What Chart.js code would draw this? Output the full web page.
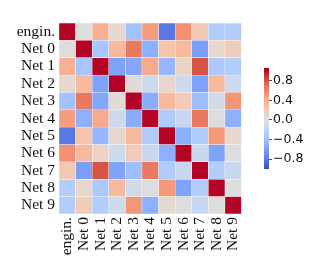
<!DOCTYPE html>
<html>
<head>
<meta charset="utf-8">
<script src="https://cdn.jsdelivr.net/npm/chart.js"></script>
<style>
  html, body { margin: 0; padding: 0; background: #fff; }
  #wrap { position: relative; width: 319px; height: 275px; overflow: hidden; }
  #heat { position: absolute; left: 0; top: 0; }
  #cbar { position: absolute; left: 255px; top: 0; }
</style>
</head>
<body>
<div id="wrap">
  <canvas id="heat" width="255" height="275"></canvas>
  <canvas id="cbar" width="64" height="275"></canvas>
</div>
<script>
// ---- data ----
const labels = ['engin.', 'Net 0', 'Net 1', 'Net 2', 'Net 3', 'Net 4', 'Net 5', 'Net 6', 'Net 7', 'Net 8', 'Net 9'];
const rowEngin = [1, 0.0, 0.38, 0.08, -0.38, 0.48, -0.8, 0.55, 0.22, -0.28, -0.28];
const rowNet0  = [0.0, 1, -0.35, 0.32, 0.65, -0.5, 0.25, 0.32, -0.6, 0.08, 0.18];
const rowNet1  = [0.38, -0.35, 1, -0.58, -0.55, 0.42, -0.45, 0.12, 0.8, -0.32, -0.28];
const rowNet2  = [0.08, 0.32, -0.58, 1, 0.03, -0.12, 0.08, -0.12, -0.58, 0.32, -0.12];
const rowNet3  = [-0.38, 0.65, -0.55, 0.03, 1, -0.52, 0.32, 0.2, -0.4, -0.08, 0.52];
const rowNet4  = [0.48, -0.5, 0.42, -0.12, -0.52, 1, -0.3, -0.15, 0.65, 0.0, -0.5];
const rowNet5  = [-0.8, 0.25, -0.45, 0.08, 0.32, -0.3, 1, -0.5, -0.3, 0.5, 0.06];
const rowNet6  = [0.55, 0.32, 0.12, -0.12, 0.2, -0.15, -0.5, 1, -0.14, -0.58, 0.0];
const rowNet7  = [0.22, -0.6, 0.8, -0.58, -0.4, 0.65, -0.3, -0.14, 1, -0.28, -0.15];
const rowNet8  = [-0.28, 0.08, -0.32, 0.32, -0.08, 0.0, 0.5, -0.58, -0.28, 1, 0.0];
const rowNet9  = [-0.28, 0.18, -0.28, -0.12, 0.52, -0.5, 0.06, 0.0, -0.15, 0.0, 1];
const corr = [rowEngin, rowNet0, rowNet1, rowNet2, rowNet3, rowNet4, rowNet5, rowNet6, rowNet7, rowNet8, rowNet9];
const cbTicks = [-0.8, -0.4, 0.0, 0.4, 0.8];
const vmin = -1, vmax = 1;

// ---- coolwarm colormap ----
const coolwarm = [
  [59,76,192],[68,90,204],[77,104,215],[87,117,225],[98,130,234],[108,142,241],[119,154,247],[130,165,251],
  [141,176,254],[152,185,255],[163,194,255],[174,201,253],[184,208,249],[194,213,244],[204,217,238],[213,219,230],
  [221,221,221],[229,216,209],[236,211,197],[241,204,185],[245,196,173],[247,187,160],[247,177,148],[247,166,135],
  [244,154,123],[241,141,111],[236,127,99],[229,112,88],[222,96,77],[213,80,66],[203,62,56],[192,40,47],[180,4,38]
];
function cmap(t) {
  t = Math.max(0, Math.min(1, t));
  const p = t * (coolwarm.length - 1);
  const i = Math.min(Math.floor(p), coolwarm.length - 2);
  const f = p - i;
  const a = coolwarm[i], b = coolwarm[i + 1];
  return 'rgb(' + [0,1,2].map(k => Math.round(a[k] + (b[k] - a[k]) * f)).join(',') + ')';
}
function colorFor(v) { return cmap((v - vmin) / (vmax - vmin)); }

const serif = 'Liberation Serif';
const sans = 'DejaVu Sans';
const textColor = '#111';

// stacked bars: dataset k (bottom first) = row labels.length-1-k
const n = labels.length;
const datasets = [];
for (let k = 0; k < n; k++) {
  const r = n - 1 - k;
  datasets.push({
    label: labels[r],
    data: corr[r].map(() => 1),
    backgroundColor: corr[r].map(v => colorFor(v)),
    borderColor: 'rgba(255,255,255,0.55)',
    borderWidth: 0.5,
    borderSkipped: false,
    barPercentage: 1,
    categoryPercentage: 1,
    xAxisID: 'x',
    yAxisID: 'y'
  });
}

new Chart(document.getElementById('heat'), {
  type: 'bar',
  data: { labels: labels, datasets: datasets },
  options: {
    responsive: false,
    devicePixelRatio: 1,
    animation: false,
    events: [],
    layout: { padding: { top: 23, right: 3, left: 0, bottom: 0 } },
    plugins: { legend: { display: false }, tooltip: { enabled: false } },
    scales: {
      x: {
        type: 'category',
        stacked: true,
        offset: true,
        grid: { display: false, drawTicks: false },
        border: { display: false },
        ticks: {
          autoSkip: false, minRotation: 90, maxRotation: 90, padding: 3,
          color: textColor, font: { family: serif, size: 15.5 }
        },
        afterFit: s => { s.height = 61; }
      },
      y: {
        type: 'linear',
        stacked: true,
        min: 0, max: n,
        display: false
      },
      yl: {
        type: 'category',
        labels: labels,
        position: 'left',
        offset: true,
        grid: { display: false, drawTicks: false },
        border: { display: false },
        ticks: {
          autoSkip: false, padding: 4,
          color: textColor, font: { family: serif, size: 15.5 }
        },
        afterFit: s => { s.width = 59; }
      }
    }
  }
});

// ---- colorbar ----
new Chart(document.getElementById('cbar'), {
  type: 'bar',
  data: {
    labels: ['cb'],
    datasets: [{
      data: [[vmin, 1.06]],
      barPercentage: 1,
      categoryPercentage: 1,
      borderWidth: 0,
      backgroundColor: (ctx) => {
        const chart = ctx.chart;
        if (!chart.chartArea) return 'rgb(221,221,221)';
        const ys = chart.scales.y;
        const y0 = ys.getPixelForValue(vmin);
        const y1 = ys.getPixelForValue(vmax);
        const g = chart.ctx.createLinearGradient(0, y0, 0, y1);
        for (let i = 0; i < coolwarm.length; i++) {
          const t = i / (coolwarm.length - 1);
          g.addColorStop(t, cmap(t));
        }
        return g;
      }
    }]
  },
  options: {
    responsive: false,
    devicePixelRatio: 1,
    animation: false,
    events: [],
    layout: { padding: { top: 68, bottom: 106, left: 9, right: 0 } },
    plugins: { legend: { display: false }, tooltip: { enabled: false } },
    scales: {
      x: { display: false },
      y: {
        type: 'linear',
        position: 'right',
        min: vmin, max: 1.06,
        afterBuildTicks: s => { s.ticks = cbTicks.map(v => ({ value: v })); },
        grid: { display: true, drawOnChartArea: false, drawTicks: true, tickLength: 3, tickColor: '#222', tickWidth: 0.8 },
        border: { display: false },
        ticks: {
          padding: 1,
          color: textColor,
          font: { family: sans, size: 12.5 },
          callback: v => (v < 0 ? '\u2212' : '') + Math.abs(v).toFixed(1)
        },
        afterFit: s => { s.width = 50; }
      }
    }
  }
});
</script>
</body>
</html>
